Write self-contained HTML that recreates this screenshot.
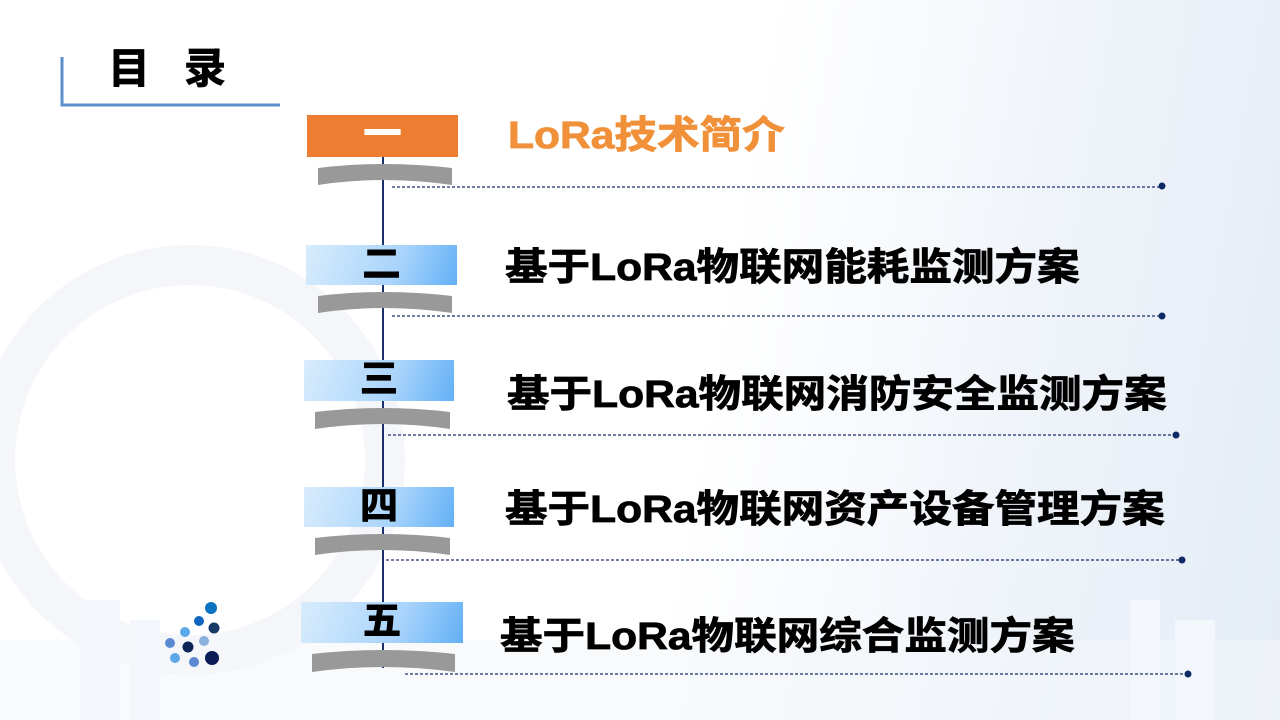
<!DOCTYPE html>
<html><head><meta charset="utf-8"><style>
body{margin:0;width:1280px;height:720px;overflow:hidden;position:relative;
background:linear-gradient(100deg,#ffffff 0%,#ffffff 55%,#eef3f9 80%,#e4ecf6 100%);
font-family:"Liberation Sans","Noto Sans CJK SC",sans-serif;}
.t{position:absolute;font-weight:bold;font-size:38px;color:#000;white-space:nowrap;line-height:1;transform:scaleX(1.12);transform-origin:left center;-webkit-text-stroke:0.8px currentColor;}
.box{position:absolute;background:linear-gradient(110deg,#d8ecfc 0%,#a9d4fb 60%,#62b0f6 100%);text-align:center;font-weight:bold;font-size:38px;line-height:40px;-webkit-text-stroke:1px currentColor;}
</style></head><body>
<svg width="1280" height="720" style="position:absolute;left:0;top:0">
<circle cx="190" cy="460" r="195" fill="none" stroke="#f5f6f9" stroke-width="40"/>
<g fill="#f3f6fa"><rect x="80" y="600" width="40" height="120"/><rect x="130" y="620" width="30" height="100"/><rect x="0" y="640" width="1280" height="80" opacity="0.6"/><rect x="1130" y="600" width="30" height="120"/><rect x="1175" y="620" width="40" height="100"/></g>
<path d="M62 57 V105 H280" fill="none" stroke="#5b8fcc" stroke-width="3"/>
<line x1="383" y1="157" x2="383" y2="668" stroke="#1a2f6b" stroke-width="2"/>
<g stroke="#1a2f6b" stroke-width="1.2" stroke-dasharray="3,2">
<line x1="392" y1="187" x2="1160" y2="187"/>
<line x1="392" y1="316" x2="1160" y2="316"/>
<line x1="388" y1="435" x2="1174" y2="435"/>
<line x1="386" y1="560" x2="1181" y2="560"/>
<line x1="405" y1="674" x2="1186" y2="674"/>
</g>
<g fill="#0d2a66"><circle cx="1162" cy="186" r="3.5"/><circle cx="1162" cy="316" r="3.5"/><circle cx="1176" cy="435" r="3.5"/><circle cx="1182" cy="560" r="3.5"/><circle cx="1188" cy="674" r="3.5"/></g>
<g fill="#999">
<path d="M318 168 Q383 160 452 168 L452 185 Q383 175 318 185Z"/>
<path d="M318 296 Q383 288 452 296 L452 313 Q383 303 318 313Z"/>
<path d="M315 412 Q383 404 450 412 L450 429 Q383 419 315 429Z"/>
<path d="M315 538 Q383 530 450 538 L450 555 Q383 545 315 555Z"/>
<path d="M312 654 Q383 646 455 654 L455 672 Q383 662 312 672Z"/>
</g>
<g>
<circle cx="211" cy="608" r="6" fill="#0b72c2"/>
<circle cx="199" cy="621" r="5" fill="#1166c0"/>
<circle cx="214" cy="628" r="5.5" fill="#163a66"/>
<circle cx="185" cy="632" r="5" fill="#5aa8ea"/>
<circle cx="170" cy="643" r="5" fill="#5b8ad0"/>
<circle cx="188" cy="647" r="5.5" fill="#0d2458"/>
<circle cx="204" cy="641" r="5" fill="#8ab0dc"/>
<circle cx="175" cy="658" r="5" fill="#5aa8ea"/>
<circle cx="194" cy="662" r="5" fill="#5b8ad0"/>
<circle cx="212" cy="658" r="7" fill="#0a1d55"/>
</g>
</svg>
<div class="t" style="left:108px;top:48px;font-size:42px;letter-spacing:34px;transform:none">目录</div>
<div class="box" style="left:307px;top:115px;width:151px;height:42px;background:#ed7d31;color:#fff">一</div>
<div class="box" style="left:306px;top:245px;width:151px;height:40px">二</div>
<div class="box" style="left:304px;top:360px;width:150px;height:41px">三</div>
<div class="box" style="left:304px;top:487px;width:150px;height:40px">四</div>
<div class="box" style="left:301px;top:602px;width:162px;height:41px">五</div>
<div class="t" style="left:508px;top:117px;color:#f0913a">LoRa技术简介</div>
<div class="t" style="left:505px;top:249px">基于LoRa物联网能耗监测方案</div>
<div class="t" style="left:507px;top:376px">基于LoRa物联网消防安全监测方案</div>
<div class="t" style="left:505px;top:491px">基于LoRa物联网资产设备管理方案</div>
<div class="t" style="left:500px;top:618px">基于LoRa物联网综合监测方案</div>
</body></html>
